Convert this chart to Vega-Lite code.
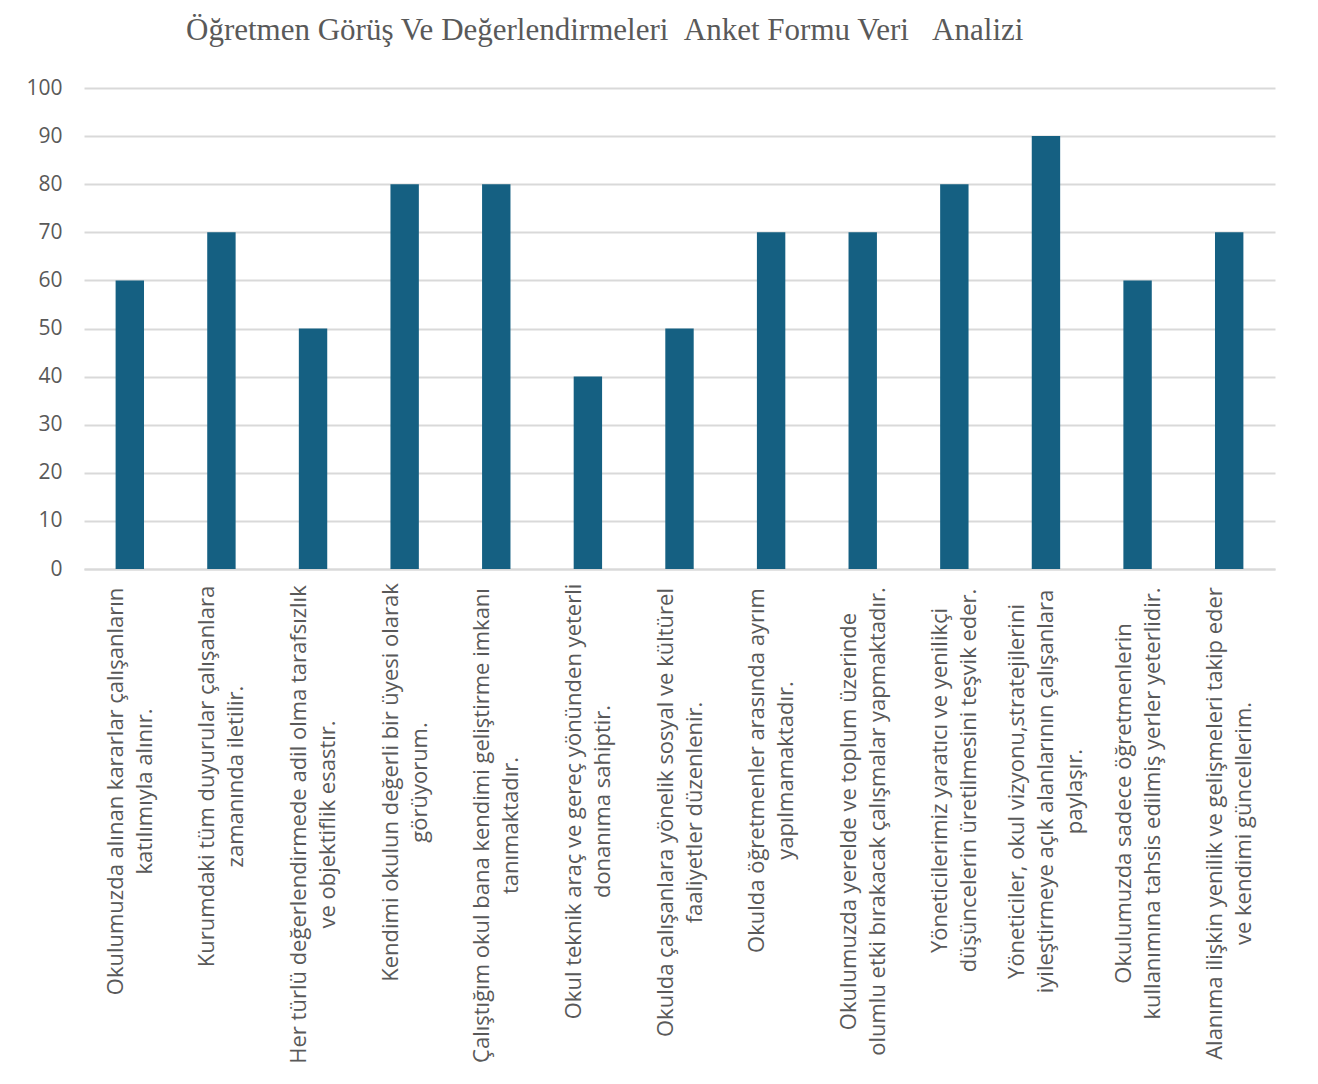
{
  "$schema": "https://vega.github.io/schema/vega-lite/v6.json",
  "autosize": "none",
  "width": 1191,
  "height": 481,
  "padding": {"left": 84, "top": 88, "right": 43, "bottom": 515},
  "background": "white",
  "title": {
    "text": "Öğretmen Görüş Ve Değerlendirmeleri \u00a0Anket Formu Veri \u00a0\u00a0Analizi",
    "font": "Liberation Serif",
    "fontSize": 31,
    "fontWeight": "normal",
    "color": "#595959",
    "anchor": "start",
    "frame": "group",
    "dx": 102,
    "offset": 30
  },
  "config": {"view": {"stroke": null}},
  "data": {
    "values": [
      {"soru": "Okulumuzda alınan kararlar çalışanların|katılımıyla alınır.", "deger": 60},
      {"soru": "Kurumdaki tüm duyurular çalışanlara|zamanında iletilir.", "deger": 70},
      {"soru": "Her türlü değerlendirmede adil olma tarafsızlık|ve objektiflik esastır.", "deger": 50},
      {"soru": "Kendimi okulun değerli bir üyesi olarak|görüyorum.", "deger": 80},
      {"soru": "Çalıştığım okul bana kendimi geliştirme imkanı|tanımaktadır.", "deger": 80},
      {"soru": "Okul teknik araç ve gereç yönünden yeterli|donanıma sahiptir.", "deger": 40},
      {"soru": "Okulda çalışanlara yönelik sosyal ve kültürel|faaliyetler düzenlenir.", "deger": 50},
      {"soru": "Okulda öğretmenler arasında ayrım|yapılmamaktadır.", "deger": 70},
      {"soru": "Okulumuzda yerelde ve toplum üzerinde|olumlu etki bırakacak çalışmalar yapmaktadır.", "deger": 70},
      {"soru": "Yöneticilerimiz yaratıcı ve yenilikçi|düşüncelerin üretilmesini teşvik eder.", "deger": 80},
      {"soru": "Yöneticiler, okul vizyonu,stratejilerini|iyileştirmeye açık alanlarının çalışanlara|paylaşır.", "deger": 90},
      {"soru": "Okulumuzda sadece öğretmenlerin|kullanımına tahsis edilmiş yerler yeterlidir.", "deger": 60},
      {"soru": "Alanıma ilişkin yenilik ve gelişmeleri takip eder|ve kendimi güncellerim.", "deger": 70}
    ]
  },
  "mark": {"type": "bar", "color": "#156082"},
  "encoding": {
    "x": {
      "field": "soru",
      "type": "nominal",
      "sort": null,
      "scale": {"paddingInner": 0.69, "paddingOuter": 0.345},
      "axis": {
        "title": null,
        "labelExpr": "split(datum.value, '|')",
        "labelAngle": -90,
        "labelAlign": "center",
        "labelBaseline": "middle",
        "labelFont": "Open Sans",
        "labelFontSize": 22,
        "labelColor": "#595959",
        "labelLineHeight": 29,
        "labelLimit": 0,
        "labelOverlap": false,
        "labelBound": false,
        "ticks": false,
        "domainColor": "#d9d9d9",
        "domainWidth": 2,
        "labelOffset": {
          "condition": {"test": "indexof(datum.value, 'Yöneticiler,') == 0", "value": -29},
          "value": -14
        },
        "labelPadding": {
          "condition": [
            {"test": "indexof(datum.value, 'Okulumuzda alınan') == 0", "value": 222},
            {"test": "indexof(datum.value, 'Kurumdaki') == 0", "value": 207},
            {"test": "indexof(datum.value, 'Her türlü') == 0", "value": 255},
            {"test": "indexof(datum.value, 'Kendimi') == 0", "value": 213},
            {"test": "indexof(datum.value, 'Çalıştığım') == 0", "value": 256},
            {"test": "indexof(datum.value, 'Okul teknik') == 0", "value": 232},
            {"test": "indexof(datum.value, 'Okulda çalışanlara') == 0", "value": 243},
            {"test": "indexof(datum.value, 'Okulda öğretmenler') == 0", "value": 201},
            {"test": "indexof(datum.value, 'Okulumuzda yerelde') == 0", "value": 252},
            {"test": "indexof(datum.value, 'Yöneticilerimiz') == 0", "value": 211},
            {"test": "indexof(datum.value, 'Yöneticiler,') == 0", "value": 222},
            {"test": "indexof(datum.value, 'Okulumuzda sadece') == 0", "value": 234}
          ],
          "value": 254
        }
      }
    },
    "y": {
      "field": "deger",
      "type": "quantitative",
      "scale": {"domain": [0, 100]},
      "axis": {
        "title": null,
        "values": [0, 10, 20, 30, 40, 50, 60, 70, 80, 90, 100],
        "domain": false,
        "ticks": false,
        "labelPadding": 22,
        "labelFont": "Open Sans",
        "labelFontSize": 21,
        "labelColor": "#595959",
        "gridColor": "#d9d9d9",
        "gridWidth": 2
      }
    }
  }
}
